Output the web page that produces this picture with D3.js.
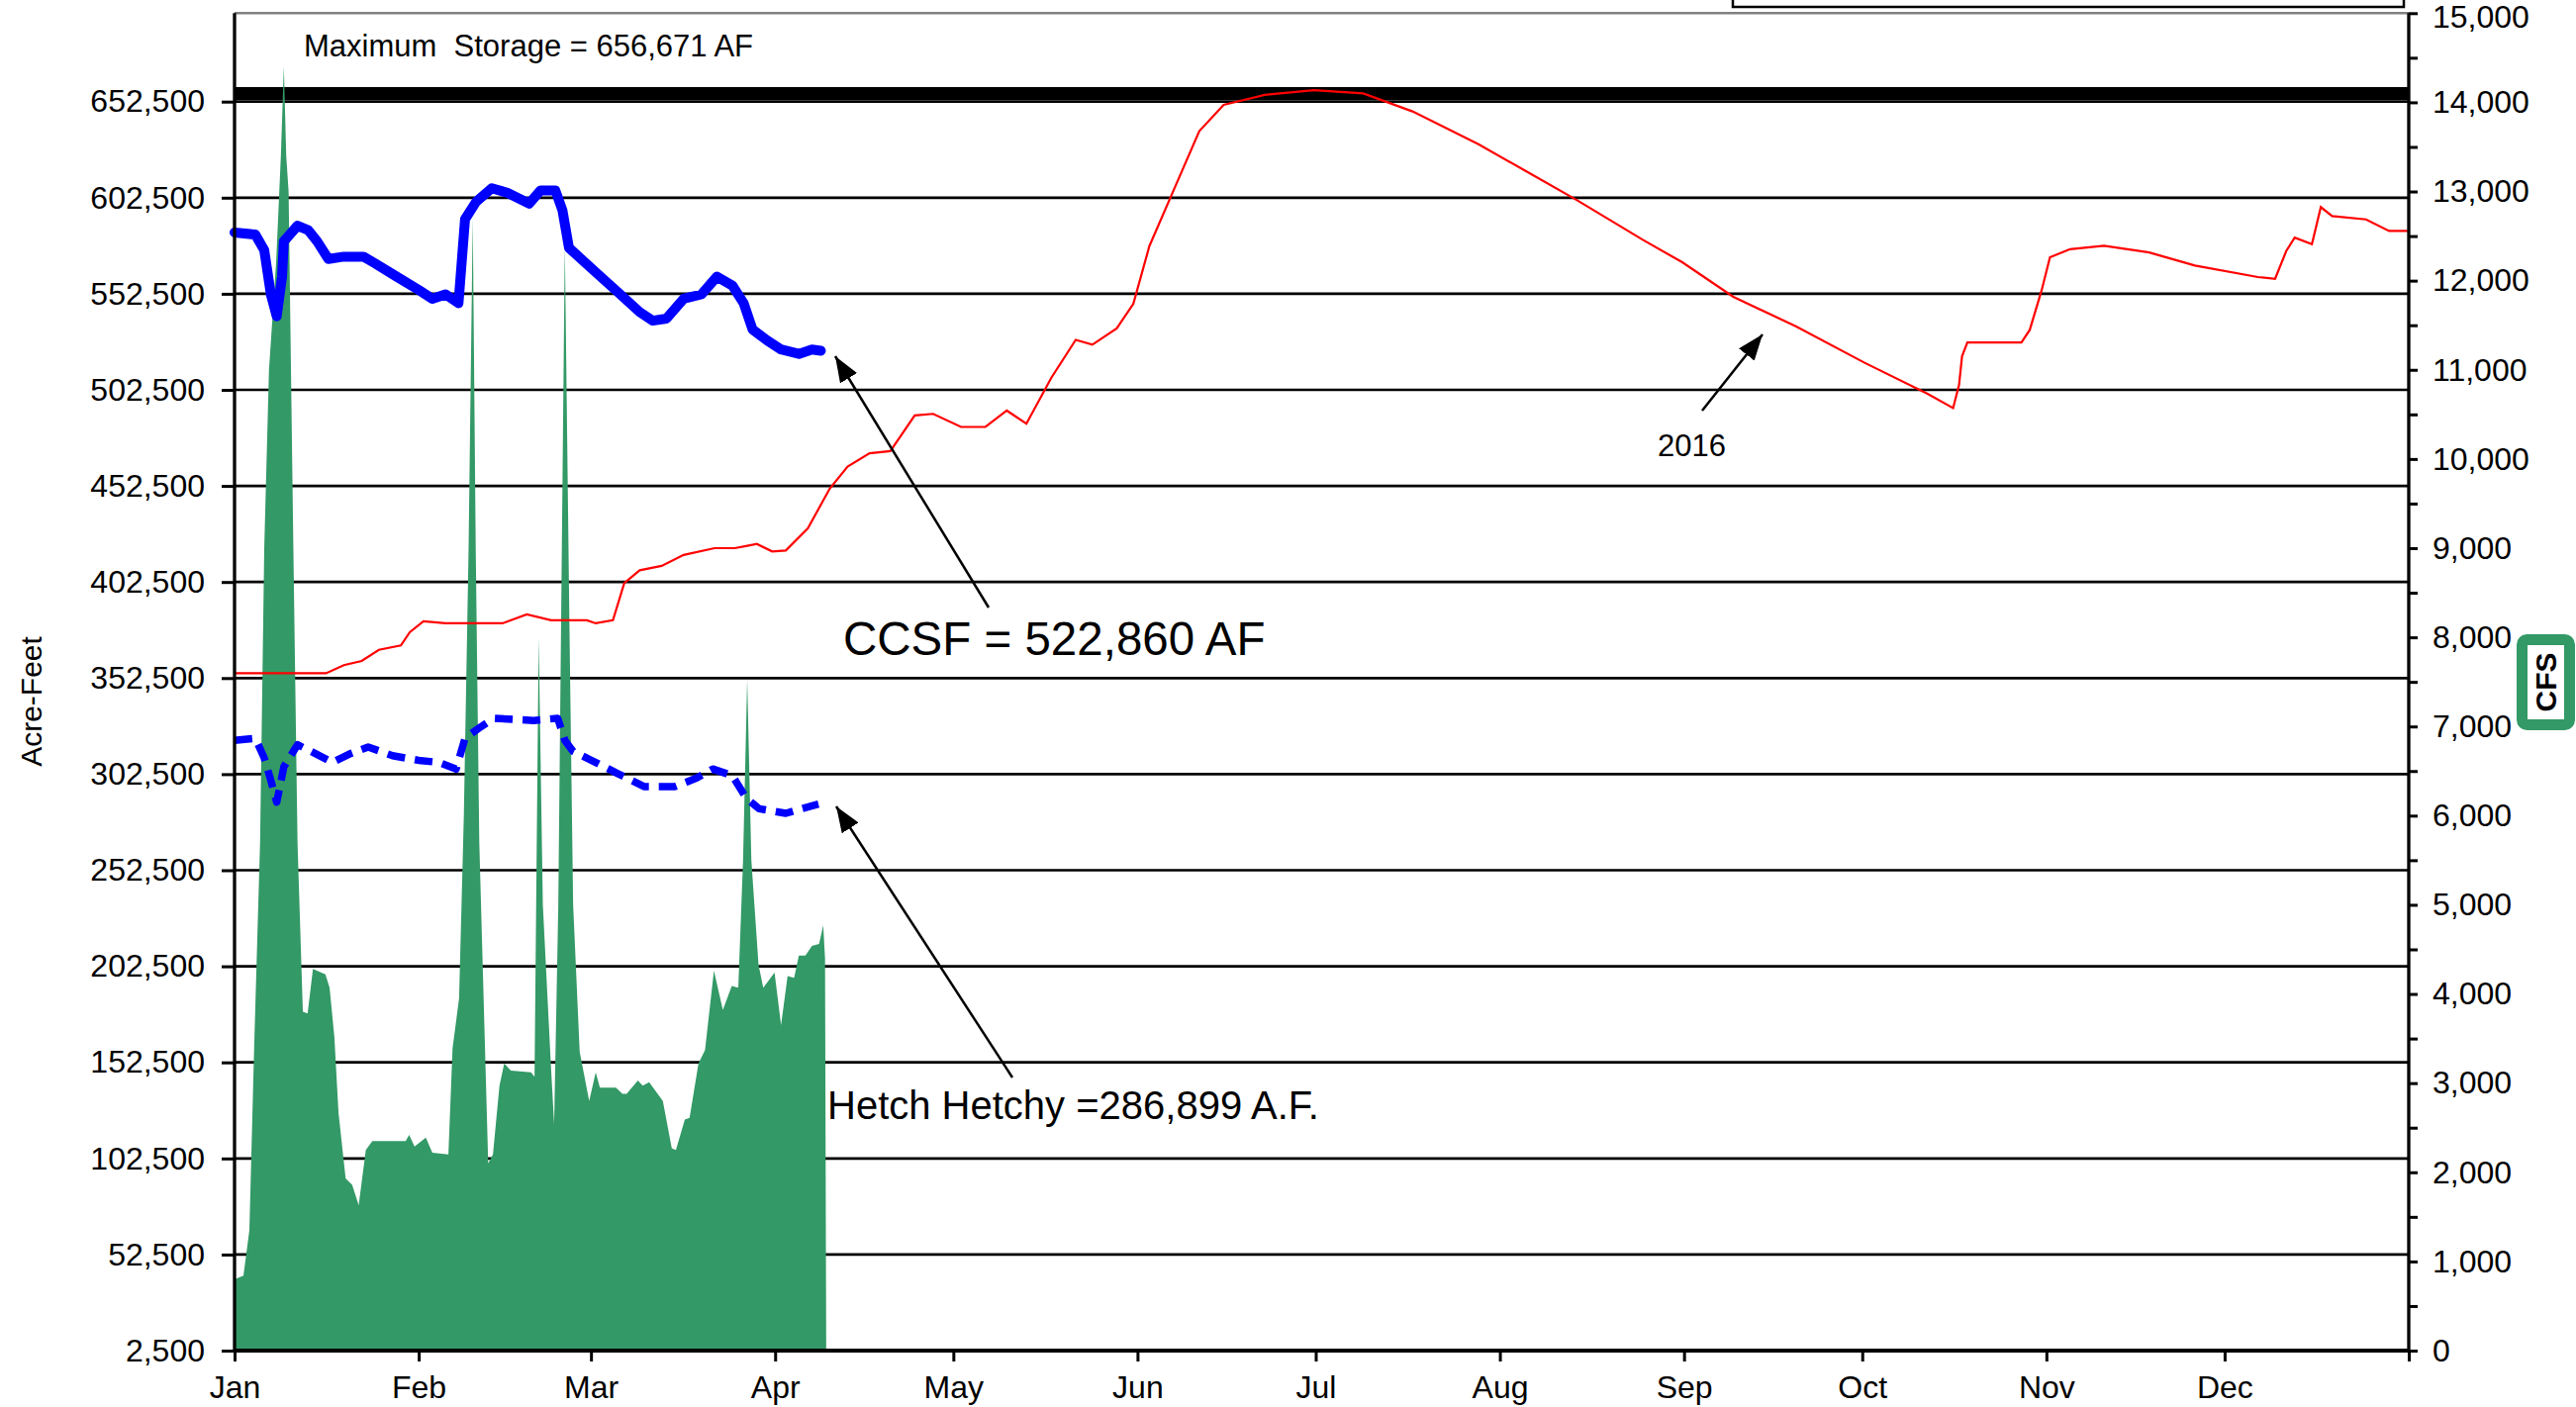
<!DOCTYPE html>
<head>
    <meta charset="utf-8">
    <script src="https://d3js.org/d3.v7.min.js"></script>
    <style>
        body { margin: 0; background: #fff; }
        svg { display: block; font-family: "Liberation Sans", Arial, sans-serif; }
    </style>
</head>
<body>
<script>
// ---- data (day of year 2016, value) ----
const monthNames = ["Jan", "Feb", "Mar", "Apr", "May", "Jun", "Jul", "Aug", "Sep", "Oct", "Nov", "Dec"];
const monthStarts = [0, 31, 60, 91, 121, 152, 182, 213, 244, 274, 305, 335];

const afTicks = d3.range(2500, 652501, 50000);
const cfsTicks = d3.range(0, 15001, 500);
const maxStorage = 656671;

// CCSF total storage, acre-feet
const ccsf = [[0,584400],[3.5,583300],[5,575200],[6.1,552400],[7.1,540800],[8,561400],[8.3,579800],[10.6,587900],
    [12.4,585600],[13.9,579800],[15.8,570600],[18.4,571800],[21.7,571800],[23.6,568400],[27.3,561400],[31,554500],
    [33.3,549900],[35.5,552200],[37.7,547600],[38.8,591300],[40.7,600500],[43.3,607400],[45.9,605100],[49.6,599400],
    [51.5,606300],[54,606300],[55.2,595900],[56.3,576400],[60.8,563700],[64.5,553400],[68.2,543000],[70.4,538500],
    [72.7,539600],[75.6,549900],[78.6,552200],[81.2,561400],[83.8,556800],[85.7,547600],[87.2,533900],[89.7,528100],
    [92,523500],[95,521200],[97.2,523500],[98.7,522860]];

// Hetch Hetchy storage, acre-feet
const hetchy = [[0,320100],[3.5,321200],[5,310900],[6.1,299400],[7.1,287900],[8.3,306300],[10.6,317800],[12.9,314300],
    [16.5,308600],[19.5,313200],[22.5,316600],[26.6,312100],[31,309700],[34.4,308600],[37.3,305200],[38.8,321200],
    [41.4,327000],[43.7,331600],[50.4,330400],[54.4,331600],[55.6,320100],[57,314300],[60.8,308600],[64.5,302800],
    [69,296000],[74.1,296000],[77.8,300500],[80.5,305200],[83.8,301700],[86.1,290200],[88.3,284500],[92.8,282100],
    [95.4,284500],[98.3,286899]];

// 2016 CCSF storage, acre-feet
const y2016 = [[0,355000],[15.4,355000],[18.4,359200],[21.4,361400],[24.3,367200],[28,369500],[29.5,376400],
    [31.8,382100],[35.5,381000],[45.1,381000],[49.2,385600],[53.3,382600],[59.3,382600],[60.8,381000],[63.7,382600],
    [65.6,401900],[68.2,408600],[71.9,410900],[75.6,416600],[80.8,420100],[84.2,420100],[86.1,421200],[87.9,422300],
    [90.5,418400],[92.8,418900],[96.5,430400],[100.2,451100],[103.2,462600],[106.9,469500],[110.4,470600],
    [114.5,489200],[117.6,490000],[122.3,483200],[126.4,483200],[130,491700],[133.3,484900],[137.5,508800],
    [141.6,528500],[144.4,526000],[148.5,534500],[151.3,547300],[154,577300],[158.2,607200],[162.4,637100],
    [166.5,650800],[173.4,656000],[181.7,658500],[190,656800],[198.3,647400],[209.4,630300],[217.7,615800],
    [226,601200],[237,580700],[243.7,568900],[252.3,550900],[262.9,535400],[274.4,516600],[285,500400],
    [289.3,493000],[290.3,505000],[290.8,520000],[291.7,527200],[300.8,527200],[302.2,533700],[304.2,554300],
    [305.6,571500],[309,575700],[314.7,577500],[322.3,574000],[330,567200],[340.6,561200],[343.5,560300],
    [345.4,574900],[346.8,581700],[349.7,578300],[351.2,597600],[353.1,592900],[358.8,591200],[362.7,585200],
    [366,585200]];

// Hetch Hetchy inflow, CFS
const inflow = [[0,800],[1.5,840],[2.5,1350],[3.3,3400],[4.3,5700],[5,9000],[5.8,11000],[7,12200],[7.8,13400],
    [8.3,14400],[8.7,13400],[9.1,13000],[9.5,11000],[9.9,9000],[10.6,5700],[11.5,3800],[12.3,3780],[13.2,4280],
    [15.3,4220],[16,4070],[16.8,3520],[17.5,2670],[18.7,1930],[19.8,1860],[20.9,1630],[22.1,2250],[23.2,2350],
    [28.8,2350],[29.4,2420],[30.3,2290],[32.2,2390],[33.3,2220],[36,2200],[36.7,3390],[37.8,3950],[38.6,6000],
    [39.4,9000],[40.1,12700],[40.6,9000],[41.2,5700],[42.7,2100],[43.5,2200],[44.6,2970],[45.4,3220],[46.5,3140],
    [49.9,3120],[50.5,3070],[51.2,8000],[51.9,5000],[53.3,3140],[53.8,2540],[54.5,5000],[55.6,12400],[56.4,8000],
    [57,5000],[58.1,3350],[59.7,2800],[60.8,3120],[61.5,2950],[64.2,2950],[65.3,2880],[66,2880],[67.9,3030],
    [68.7,2970],[69.8,3010],[72.1,2800],[73.6,2270],[74.3,2250],[75.8,2590],[76.6,2610],[78.1,3220],[79.2,3370],
    [80.7,4260],[82.2,3820],[83.7,4090],[84.8,4070],[85.6,5500],[86.3,7530],[87,5500],[88.2,4330],[89,4070],
    [90.9,4240],[92,3650],[93.1,4200],[94.2,4180],[95,4430],[96.1,4430],[97.2,4540],[98.4,4560],[99.1,4770],
    [99.4,4400],[99.6,0]];

// ---- layout ----
const W = 2603, H = 1422,
    plotLeft = 237, plotRight = 2434, plotTop = 13.3, plotBottom = 1365;

const svg = d3.select("body").append("svg").attr("width", W).attr("height", H);

const x = d3.scaleLinear().domain([0, 366]).range([plotLeft, plotRight]),
    yAF = d3.scaleLinear().domain([2500, 2500 + (plotBottom - plotTop) / 97.1 * 50000]).range([plotBottom, plotTop]),
    yCFS = d3.scaleLinear().domain([0, 15000]).range([plotBottom, plotTop]);

// legend box peeking in at the top
svg.append("rect")
    .attr("x", 1751).attr("y", -10).attr("width", 678).attr("height", 17)
    .attr("fill", "#fff").attr("stroke", "#000").attr("stroke-width", 2.5);

// plot top border
svg.append("line")
    .attr("x1", plotLeft).attr("x2", plotRight).attr("y1", plotTop).attr("y2", plotTop)
    .attr("stroke", "#808080").attr("stroke-width", 2.5);

// gridlines
svg.append("g").selectAll("line")
    .data(afTicks.slice(1))
    .enter().append("line")
    .attr("x1", plotLeft).attr("x2", plotRight)
    .attr("y1", d => yAF(d)).attr("y2", d => yAF(d))
    .attr("stroke", "#000").attr("stroke-width", 2.7);

// maximum storage
svg.append("line")
    .attr("x1", plotLeft).attr("x2", plotRight)
    .attr("y1", yAF(maxStorage)).attr("y2", yAF(maxStorage))
    .attr("stroke", "#000").attr("stroke-width", 13);

// inflow area
svg.append("path")
    .datum(inflow)
    .attr("fill", "#339966")
    .attr("d", d3.area().x(d => x(d[0])).y0(yCFS(0)).y1(d => yCFS(d[1])));

const lineAF = d3.line().x(d => x(d[0])).y(d => yAF(d[1]));

svg.append("path").datum(y2016)
    .attr("fill", "none").attr("stroke", "#ff0000").attr("stroke-width", 2.2)
    .attr("d", lineAF);

svg.append("path").datum(hetchy)
    .attr("fill", "none").attr("stroke", "#0000ff").attr("stroke-width", 7.5)
    .attr("stroke-dasharray", "18,10").attr("stroke-linejoin", "round")
    .attr("d", lineAF);

svg.append("path").datum(ccsf)
    .attr("fill", "none").attr("stroke", "#0000ff").attr("stroke-width", 10)
    .attr("stroke-linejoin", "round").attr("stroke-linecap", "round")
    .attr("d", lineAF);

// axes
function styleAxis(g) {
    g.selectAll("text").attr("font-size", 32).attr("fill", "#000")
        .attr("font-family", "'Liberation Sans', Arial, sans-serif");
    g.selectAll("line").attr("stroke", "#000").attr("stroke-width", 3);
    g.select(".domain").remove();
}

svg.append("g")
    .attr("transform", `translate(${plotLeft},0)`)
    .call(d3.axisLeft(yAF).tickValues(afTicks).tickFormat(d3.format(",")).tickSize(13).tickPadding(17))
    .call(styleAxis);

svg.append("g")
    .attr("transform", `translate(${plotRight},0)`)
    .call(d3.axisRight(yCFS).tickValues(cfsTicks)
        .tickFormat(d => d % 1000 ? "" : d3.format(",")(d)).tickSize(9).tickPadding(15))
    .call(styleAxis)
    .call(g => g.selectAll(".tick text").filter(d => d === 15000).attr("y", 4));

svg.append("g")
    .attr("transform", `translate(0,${plotBottom})`)
    .call(d3.axisBottom(x).tickValues(monthStarts.concat([366]))
        .tickFormat((d, i) => monthNames[i] || "").tickSize(11).tickPadding(14))
    .call(styleAxis);

// axis lines
svg.append("line").attr("x1", plotLeft).attr("x2", plotLeft).attr("y1", plotTop).attr("y2", plotBottom + 1.5)
    .attr("stroke", "#000").attr("stroke-width", 3.3);
svg.append("line").attr("x1", plotRight).attr("x2", plotRight).attr("y1", plotTop).attr("y2", plotBottom + 1.5)
    .attr("stroke", "#000").attr("stroke-width", 3.3);
svg.append("line").attr("x1", plotLeft).attr("x2", plotRight).attr("y1", plotBottom).attr("y2", plotBottom)
    .attr("stroke", "#000").attr("stroke-width", 4);

// axis titles
svg.append("text")
    .attr("transform", "translate(42,709) rotate(-90)")
    .attr("text-anchor", "middle").attr("font-size", 30)
    .text("Acre-Feet");

svg.append("rect")
    .attr("x", 2548.5).attr("y", 646.5).attr("width", 48).attr("height", 86).attr("rx", 5)
    .attr("fill", "#fff").attr("stroke", "#339966").attr("stroke-width", 11);
svg.append("text")
    .attr("transform", "translate(2583,689.5) rotate(-90)")
    .attr("text-anchor", "middle").attr("font-size", 30).attr("font-weight", "bold")
    .text("CFS");

// annotations
svg.append("text").attr("x", 307).attr("y", 57).attr("font-size", 31)
    .style("white-space", "pre")
    .text("Maximum  Storage = 656,671 AF");
svg.append("text").attr("x", 852).attr("y", 662).attr("font-size", 47.5)
    .text("CCSF = 522,860 AF");
svg.append("text").attr("x", 836).attr("y", 1131).attr("font-size", 40)
    .text("Hetch Hetchy =286,899 A.F.");
svg.append("text").attr("x", 1675).attr("y", 461).attr("font-size", 31)
    .text("2016");

svg.append("defs").append("marker")
    .attr("id", "arrow").attr("viewBox", "0 0 26 20")
    .attr("markerWidth", 26).attr("markerHeight", 20).attr("markerUnits", "userSpaceOnUse")
    .attr("refX", 26).attr("refY", 10).attr("orient", "auto")
    .append("path").attr("d", "M0,0L26,10L0,20z").attr("fill", "#000");

const arrows = [[999, 614, 844, 360], [1023, 1089, 845, 815], [1720, 415, 1781, 338]];
svg.append("g").selectAll("line")
    .data(arrows)
    .enter().append("line")
    .attr("x1", d => d[0]).attr("y1", d => d[1]).attr("x2", d => d[2]).attr("y2", d => d[3])
    .attr("stroke", "#000").attr("stroke-width", 2.5)
    .attr("marker-end", "url(#arrow)");
</script>
</body>
